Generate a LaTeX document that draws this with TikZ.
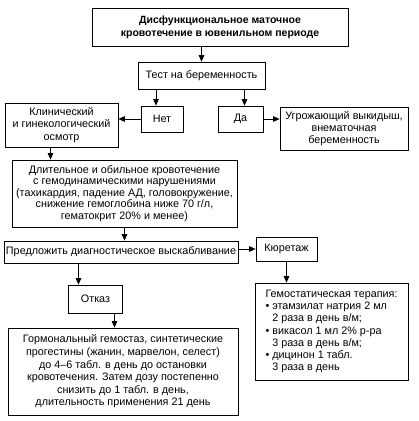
\documentclass[tikz,border=0pt]{standalone}
\usepackage{fontspec}
\setmainfont{Liberation Sans}
\usetikzlibrary{arrows.meta,positioning}

\begin{document}
\begin{tikzpicture}[x=1pt,y=-1pt,
    block/.style={draw, line width=0.7pt, align=center, inner sep=2pt,
      font=\fontsize{10.8}{12.2}\selectfont},
    headblock/.style={block, font=\bfseries\fontsize{10.5}{13}\selectfont},
    arr/.style={-{Triangle[length=6.5pt,width=5.5pt]}, line width=0.7pt}]
    \useasboundingbox (0,0) rectangle (419,421);

    % Top of the scheme
    \node[headblock, minimum width=256pt, minimum height=38pt] (title) at (220,27)
        {Дисфункциональное маточное\\кровотечение в ювенильном периоде};
    \node[block, minimum width=127pt, minimum height=27pt] (test) at (201.5,75.5)
        {Тест на беременность};

    % Test result
    \node[block, minimum width=42pt, minimum height=26pt] (net) at (162,119) {Нет};
    \node[block, minimum width=45pt, minimum height=26pt] (yes) at (240.5,119) {Да};
    \node[block, minimum width=128pt, minimum height=43pt] (threat) at (344,128.5)
        {Угрожающий выкидыш,\\внематочная\\беременность};
    \node[block, minimum width=113pt, minimum height=44pt] (exam) at (61.5,125)
        {Клинический\\и гинекологический\\осмотр};

    % Bleeding
    \node[block, minimum width=225pt, minimum height=67pt,
          font=\fontsize{10.8}{11.6}\selectfont] (bleed) at (124.5,193.5)
        {Длительное и обильное кровотечение\\с гемодинамическими нарушениями\\(тахикардия, падение АД, головокружение,\\снижение гемоглобина ниже 70 г/л,\\гематокрит 20\% и менее)};
    \node[block, minimum width=232pt, minimum height=22pt] (offer) at (121,252)
        {Предложить диагностическое выскабливание};
    \node[block, minimum width=61pt, minimum height=24pt] (curet) at (286.5,249) {Кюретаж};

    % Therapy
    \node[block, minimum width=153pt, minimum height=97pt, align=left] (therapy) at (331.5,331.5)
        {Гемостатическая терапия:\\
         • этамзилат натрия 2 мл\\
         \phantom{•\ }2 раза в день в/м;\\
         • викасол 1 мл 2\% р-ра\\
         \phantom{•\ }3 раза в день в/м;\\
         • дицинон 1 табл.\\
         \phantom{•\ }3 раза в день};
    \node[block, minimum width=54pt, minimum height=28pt] (refusal) at (95.5,299) {Отказ};
    \node[block, minimum width=230pt, minimum height=87pt,
          font=\fontsize{10.8}{12.6}\selectfont] (hormone) at (123,371.5)
        {Гормональный гемостаз, синтетические\\прогестины (жанин, марвелон, селест)\\до 4--6 табл. в день до остановки\\кровотечения. Затем дозу постепенно\\снизить до 1 табл. в день,\\длительность применения 21 день};

    % Arrows
    \draw[arr] (title.south -| test.north) -- (test.north);
    \draw[arr] ([xshift=-6pt]net.north |- test.south) -- ([xshift=-6pt]net.north);
    \draw[arr] ([xshift=4pt]yes.north |- test.south) -- ([xshift=4pt]yes.north);
    \draw[arr] (yes.east) -- (yes.east -| threat.west);
    \draw[arr] (net.west) -- (net.west -| exam.east);
    \draw[arr] ([xshift=-11pt]exam.south) -- ([xshift=-11pt]exam.south |- bleed.north);
    \draw[arr] (bleed.south) -- (bleed.south |- offer.north);
    \draw[arr] (offer.east |- curet.west) -- (curet.west);
    \draw[arr] (curet.south) -- (curet.south |- therapy.north);
    \draw[arr] ([xshift=-17pt]refusal.north |- offer.south) -- ([xshift=-17pt]refusal.north);
    \draw[arr] ([xshift=19pt]refusal.south) -- ([xshift=19pt]refusal.south |- hormone.north);
\end{tikzpicture}
\end{document}
